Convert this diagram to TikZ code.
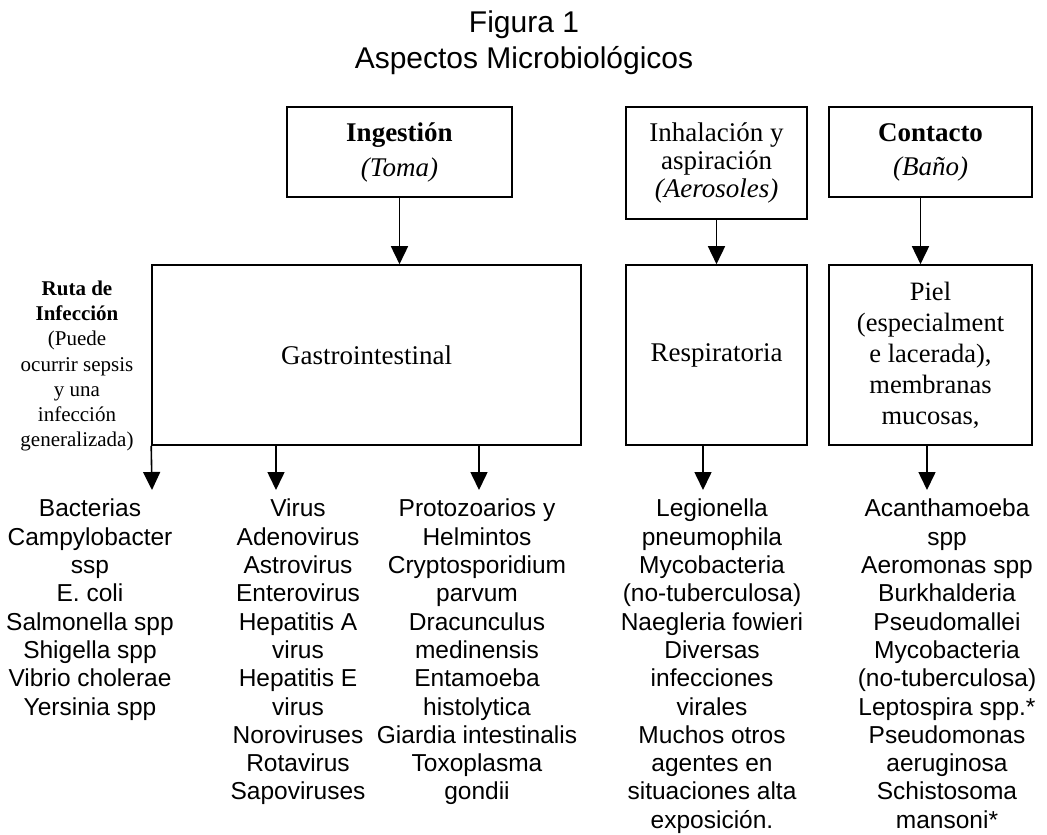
\documentclass[tikz,border=0pt]{standalone}
\usepackage{fontspec}
\setmainfont{Liberation Serif}
\newfontfamily\arialf{Liberation Sans}
\usetikzlibrary{arrows.meta}
\begin{document}
\begin{tikzpicture}[x=1pt,y=-1pt,
  box/.style={draw, line width=1.6pt, align=center, inner sep=0pt, font=\fontsize{27}{31}\selectfont},
  lst/.style={align=center, anchor=north, inner sep=0pt, font=\arialf\fontsize{24.5}{28.3}\selectfont},
  arr/.style={line width=1.6pt, -{Triangle[length=18pt,width=17pt]}}]
\useasboundingbox (0,0) rectangle (1047,835);
% title
\node[align=center, font=\arialf\fontsize{30}{36}\selectfont] (title) at (524,43) {Figura 1\\Aspectos Microbiológicos};
% top boxes
\node[box, minimum width=225pt, minimum height=90pt, font=\fontsize{27}{35}\selectfont] (ing) at (399.5,152) {\textbf{Ingestión}\\\textit{(Toma)}};
\node[box, minimum width=181pt, minimum height=112pt, font=\fontsize{27}{28}\selectfont] (inh) at (716.5,163) {Inhalación y\\aspiración\\\textit{(Aerosoles)}};
\node[box, minimum width=203pt, minimum height=90pt, font=\fontsize{27}{34}\selectfont] (con) at (930.5,152) {\textbf{Contacto}\\\textit{(Baño)}};
% route boxes
\node[box, minimum width=429pt, minimum height=180pt] (gas) at (366.5,355) {Gastrointestinal};
\node[box, minimum width=181pt, minimum height=180pt] (res) at (716.5,355) {Respiratoria};
\node[box, minimum width=203pt, minimum height=180pt, font=\fontsize{26.5}{31}\selectfont] (piel) at (930.5,355) {Piel\\(especialment\\e lacerada),\\membranas\\mucosas,};
% side label
\node[align=center, inner sep=0pt, font=\fontsize{21}{25.2}\selectfont] (ruta) at (77,366) {\textbf{Ruta de}\\\textbf{Infección}\\(Puede\\ocurrir sepsis\\y una\\infección\\generalizada)};
% arrows top
\draw[arr] (ing.south) -- (ing.south |- gas.north);
\draw[arr] (inh.south) -- (res.north);
\draw[arr] ([xshift=-10pt]con.south) -- ([xshift=-10pt]con.south |- piel.north);
% lists
\node[lst] (l1) at (90,499) {Bacterias\\Campylobacter\\ssp\\E. coli\\Salmonella spp\\Shigella spp\\Vibrio cholerae\\Yersinia spp};
\node[lst] (l2) at (298,499) {Virus\\Adenovirus\\Astrovirus\\Enterovirus\\Hepatitis A\\virus\\Hepatitis E\\virus\\Noroviruses\\Rotavirus\\Sapoviruses};
\node[lst] (l3) at (477,499) {Protozoarios y\\Helmintos\\Cryptosporidium\\parvum\\Dracunculus\\medinensis\\Entamoeba\\histolytica\\Giardia intestinalis\\Toxoplasma\\gondii};
\node[lst] (l4) at (712,499) {Legionella\\pneumophila\\Mycobacteria\\(no-tuberculosa)\\Naegleria fowieri\\Diversas\\infecciones\\virales\\Muchos otros\\agentes en\\situaciones alta\\exposición.};
\node[lst] (l5) at (947,499) {Acanthamoeba\\spp\\Aeromonas spp\\Burkhalderia\\Pseudomallei\\Mycobacteria\\(no-tuberculosa)\\Leptospira spp.*\\Pseudomonas\\aeruginosa\\Schistosoma\\mansoni*};
% bottom arrows
\coordinate (a1) at (152,490);
\coordinate (a2) at (276,490);
\coordinate (a3) at (479,490);
\coordinate (a4) at (703,490);
\coordinate (a5) at (927,490);
\draw[arr] (gas.south west) -- (a1);
\draw[arr] (a2 |- gas.south) -- (a2);
\draw[arr] (a3 |- gas.south) -- (a3);
\draw[arr] (a4 |- res.south) -- (a4);
\draw[arr] (a5 |- piel.south) -- (a5);
\end{tikzpicture}
\end{document}
